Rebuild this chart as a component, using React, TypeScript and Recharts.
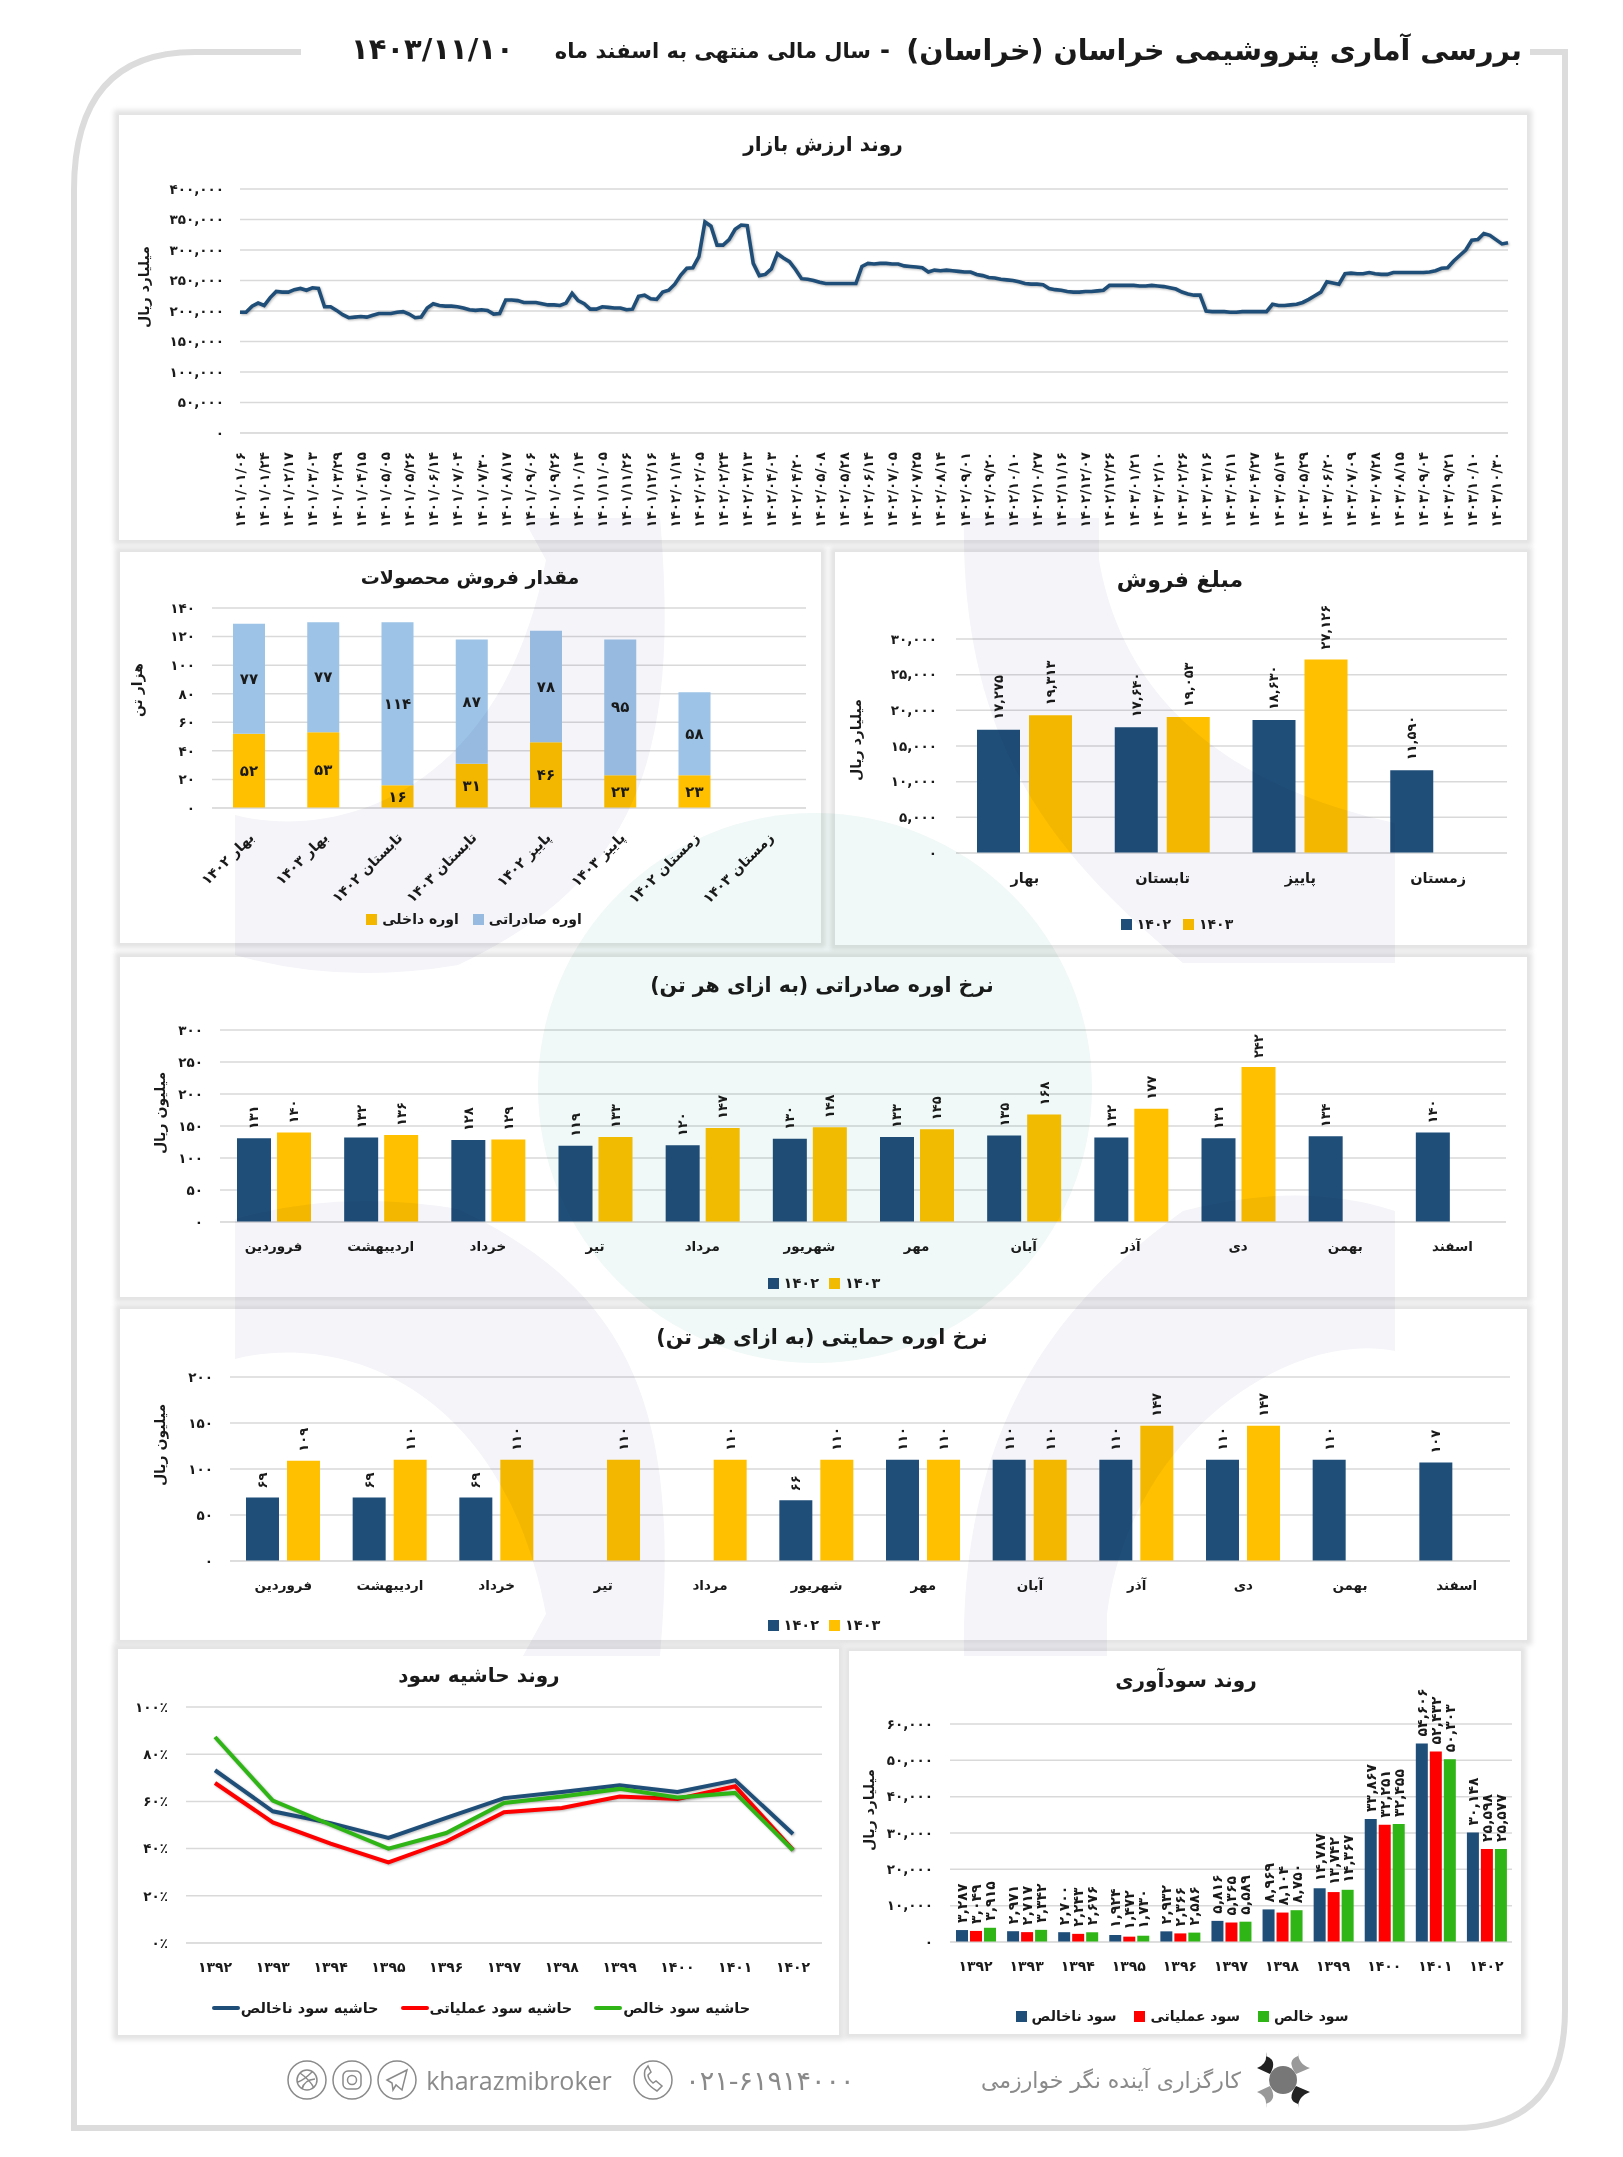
import React from 'react';
import { LineChart, Line, BarChart, Bar, XAxis, YAxis, CartesianGrid, Legend, LabelList } from 'recharts';

const FONT = '"DejaVu Sans", sans-serif';
const NAVY = '#1F4E79';
const GOLD = '#FFC000';
const SKY = '#9DC3E6';
const RED = '#FF0000';
const GREEN = '#2FB516';
const GRID = '#d9d9d9';
const TXT = '#1a1a1a';

const marketDates = [
  '۱۴۰۱/۰۱/۰۶','۱۴۰۱/۰۱/۲۴','۱۴۰۱/۰۲/۱۷','۱۴۰۱/۰۳/۰۳','۱۴۰۱/۰۳/۲۹','۱۴۰۱/۰۴/۱۵','۱۴۰۱/۰۵/۰۵','۱۴۰۱/۰۵/۲۶','۱۴۰۱/۰۶/۱۴','۱۴۰۱/۰۷/۰۴','۱۴۰۱/۰۷/۳۰','۱۴۰۱/۰۸/۱۷','۱۴۰۱/۰۹/۰۶','۱۴۰۱/۰۹/۲۶','۱۴۰۱/۱۰/۱۴','۱۴۰۱/۱۱/۰۵','۱۴۰۱/۱۱/۲۶','۱۴۰۱/۱۲/۱۶',
  '۱۴۰۲/۰۱/۱۴','۱۴۰۲/۰۲/۰۵','۱۴۰۲/۰۲/۲۴','۱۴۰۲/۰۳/۱۳','۱۴۰۲/۰۴/۰۳','۱۴۰۲/۰۴/۲۰','۱۴۰۲/۰۵/۰۸','۱۴۰۲/۰۵/۲۸','۱۴۰۲/۰۶/۱۴','۱۴۰۲/۰۷/۰۵','۱۴۰۲/۰۷/۲۵','۱۴۰۲/۰۸/۱۴','۱۴۰۲/۰۹/۰۱','۱۴۰۲/۰۹/۲۰','۱۴۰۲/۱۰/۱۰','۱۴۰۲/۱۰/۲۷','۱۴۰۲/۱۱/۱۶','۱۴۰۲/۱۲/۰۷',
  '۱۴۰۲/۱۲/۲۶','۱۴۰۳/۰۱/۲۱','۱۴۰۳/۰۲/۱۰','۱۴۰۳/۰۲/۲۶','۱۴۰۳/۰۳/۱۶','۱۴۰۳/۰۴/۱۱','۱۴۰۳/۰۴/۲۷','۱۴۰۳/۰۵/۱۴','۱۴۰۳/۰۵/۲۹','۱۴۰۳/۰۶/۲۰','۱۴۰۳/۰۷/۰۹','۱۴۰۳/۰۷/۲۸','۱۴۰۳/۰۸/۱۵','۱۴۰۳/۰۹/۰۴','۱۴۰۳/۰۹/۲۱','۱۴۰۳/۱۰/۱۰','۱۴۰۳/۱۰/۳۰',
];
const marketValues = [
  198000,198000,208000,213000,209000,222000,232000,231000,231000,235000,237000,234000,238000,237000,207000,207000,201000,194000,189000,190000,191000,190000,193000,196000,196000,196000,198000,199000,195000,189000,190000,205000,212000,209000,208000,208000,
  207000,205000,202000,201000,202000,201000,195000,196000,218000,218000,217000,214000,214000,214000,212000,210000,210000,209000,213000,229000,217000,212000,203000,203000,207000,206000,205000,205000,202000,203000,224000,226000,220000,219000,231000,234000,
  244000,259000,270000,271000,289000,346000,339000,308000,308000,317000,334000,341000,340000,278000,258000,260000,269000,294000,287000,281000,268000,253000,252000,250000,247000,245000,245000,245000,245000,245000,245000,273000,278000,277000,278000,278000,
  277000,277000,274000,273000,272000,271000,264000,267000,266000,267000,266000,265000,264000,264000,260000,258000,255000,254000,252000,251000,250000,248000,245000,244000,244000,243000,237000,235000,234000,232000,231000,231000,232000,232000,233000,234000,
  242000,242000,242000,242000,242000,241000,241000,242000,241000,240000,238000,236000,231000,228000,226000,226000,200000,199000,199000,199000,198000,198000,199000,199000,199000,199000,199000,211000,209000,209000,210000,211000,214000,219000,225000,231000,
  248000,246000,244000,261000,262000,261000,261000,263000,261000,260000,260000,263000,263000,263000,263000,263000,263000,264000,266000,270000,271000,282000,291000,300000,316000,317000,327000,324000,317000,310000,312000,
];
const marketTicks = [0,50000,100000,150000,200000,250000,300000,350000,400000];

const seasons = ['بهار','تابستان','پاییز','زمستان'];
const sales1402 = [17275,17640,18630,11590];
const sales1403 = [19313,19053,27126,null];
const salesTicks = [0,5000,10000,15000,20000,25000,30000];

const volumeCats = ['بهار ۱۴۰۲','بهار ۱۴۰۳','تابستان ۱۴۰۲','تابستان ۱۴۰۳','پاییز ۱۴۰۲','پاییز ۱۴۰۳','زمستان ۱۴۰۲','زمستان ۱۴۰۳'];
const volumeDomestic = [52,53,16,31,46,23,23,null];
const volumeExport = [77,77,114,87,78,95,58,null];
const volumeTicks = [0,20,40,60,80,100,120,140];

const months = ['فروردین','اردیبهشت','خرداد','تیر','مرداد','شهریور','مهر','آبان','آذر','دی','بهمن','اسفند'];
const exportRate1402 = [131,132,128,119,120,130,133,135,132,131,134,140];
const exportRate1403 = [140,136,129,133,147,148,145,168,177,242,null,null];
const exportRateTicks = [0,50,100,150,200,250,300];
const subsidyRate1402 = [69,69,69,null,null,66,110,110,110,110,110,107];
const subsidyRate1403 = [109,110,110,110,110,110,110,110,147,147,null,null];
const subsidyRateTicks = [0,50,100,150,200];

const years = ['۱۳۹۲','۱۳۹۳','۱۳۹۴','۱۳۹۵','۱۳۹۶','۱۳۹۷','۱۳۹۸','۱۳۹۹','۱۴۰۰','۱۴۰۱','۱۴۰۲'];
const grossMargin = [73.2,55.8,50.8,44.5,53,61.4,64,66.8,64,68.9,46.2];
const operatingMargin = [67.8,51.1,42.1,34.2,43,55.4,57.2,62.1,61,66.4,39.5];
const netMargin = [87.3,60.3,50.1,40,46.6,59.3,62.1,65.3,61.7,63.6,39.3];
const marginTicks = [0,20,40,60,80,100];

const grossProfit = [3287,2971,2700,1924,2932,5816,8969,14787,33867,54606,30148];
const operatingProfit = [3049,2717,2243,1472,2366,5365,8104,13742,32251,52432,25598];
const netProfit = [3915,3342,2676,1730,2586,5589,8750,14367,32455,50303,25577];
const profitTicks = [0,10000,20000,30000,40000,50000,60000];

const faDigits = '۰۱۲۳۴۵۶۷۸۹';
const fa = (n: any) => String(n).replace(/\d/g, (d) => faDigits[+d]);
const faNum = (n: any) => fa(Number(n).toLocaleString('en-US'));

const Panel = ({ x, y, r, b }: any) => (
  <div style={{ position: 'absolute', left: x, top: y, width: r - x, height: b - y, background: '#fff', boxShadow: '0 0 5px 5px #e3e3e3' }} />
);
const Text = ({ cx, cy, size, children, weight = 700, color = TXT, rot }: any) => (
  <div dir="rtl" style={{ position: 'absolute', left: cx - 300, top: cy - 20, width: 600, height: 40, lineHeight: '40px', textAlign: 'center', fontFamily: FONT, fontSize: size, fontWeight: weight, color, whiteSpace: 'nowrap', transform: rot ? `rotate(${rot}deg)` : undefined }}>{children}</div>
);

const rotatedLabel = (gap: number, size: number, fmt: (v: any) => string) => (p: any) => {
  const { x, y, width, value } = p;
  if (value == null) return null;
  const cx = x + width / 2;
  const yy = y - gap;
  return (
    <text x={cx} y={yy} transform={`rotate(-90 ${cx} ${yy})`} textAnchor="start" dominantBaseline="central" fontFamily={FONT} fontWeight={700} fontSize={size} fill={TXT}>{fmt(value)}</text>
  );
};
const centerLabel = (p: any) => {
  const { x, y, width, height, value } = p;
  if (value == null) return null;
  return <text x={x + width / 2} y={y + height / 2} textAnchor="middle" dominantBaseline="central" fontFamily={FONT} fontWeight={700} fontSize={15} fill={TXT}>{fa(value)}</text>;
};

const swatchLegend = (size: number, line: boolean, gap: number) => ({ payload }: any) => (
  <div style={{ display: 'flex', justifyContent: 'center', alignItems: 'center', gap, fontFamily: FONT, fontWeight: 700, fontSize: size, color: TXT, whiteSpace: 'nowrap' }}>
    {(payload || []).map((e: any) => (
      <span key={e.value} style={{ display: 'inline-flex', alignItems: 'center', gap: line ? 1 : 5 }}>
        <span style={{ display: 'inline-block', width: line ? 28 : 11, height: line ? 4 : 11, background: e.color, borderRadius: line ? 2 : 0 }} />
        <span dir="rtl">{e.value}</span>
      </span>
    ))}
  </div>
);

const axisTick = (size: number) => ({ fontFamily: FONT, fontSize: size, fontWeight: 700, fill: TXT });
const frame = (panel: any, plot: any, yW: number, xH: number) => ({
  width: panel.r - panel.x,
  height: panel.b - panel.y,
  margin: { top: plot.t - panel.y, right: panel.r - plot.r, bottom: panel.b - plot.b - xH, left: plot.l - panel.x - yW },
});
const gridEl = <CartesianGrid vertical={false} stroke={GRID} strokeWidth={1.5} />;

const dateTick = (p: any) => {
  const { x, y, payload } = p;
  const label = marketDates[payload.value / 4];
  const yy = y + 11;
  return <text x={x} y={yy} transform={`rotate(-90 ${x} ${yy})`} textAnchor="end" dominantBaseline="central" fontFamily={FONT} fontSize={13.5} fontWeight={700} fill={TXT}>{label}</text>;
};
const slantTick = (p: any) => {
  const { x, y, payload } = p;
  const yy = y + 19;
  const xx = x + 2;
  return <text x={xx} y={yy} transform={`rotate(-45 ${xx} ${yy})`} textAnchor="start" style={{ direction: 'rtl' }} dominantBaseline="central" fontFamily={FONT} fontSize={14} fontWeight={700} fill={TXT}>{payload.value}</text>;
};

function MarketChart() {
  const panel = { x: 119, y: 115, r: 1527, b: 540 };
  const plot = { l: 240, t: 189, r: 1508, b: 433 };
  const data = marketValues.map((v, i) => ({ i, v }));
  return (
    <div style={{ position: 'absolute', left: panel.x, top: panel.y }}>
      <LineChart data={data} {...frame(panel, plot, 60, 60)}>
        {gridEl}
        <XAxis dataKey="i" type="number" domain={[0, marketValues.length - 1]} ticks={marketDates.map((_, i) => i * 4)} interval={0} height={60} tickLine={false} stroke={GRID} tick={dateTick} />
        <YAxis width={60} domain={[0, 400000]} ticks={marketTicks} interval={0} axisLine={false} tickLine={false} tickSize={0} tickMargin={16} tickFormatter={faNum} tick={axisTick(13.5)} />
        <Line dataKey="v" name="ارزش بازار" stroke={NAVY} strokeWidth={3.6} dot={false} isAnimationActive={false} />
      </LineChart>
    </div>
  );
}

function SalesChart() {
  const panel = { x: 835, y: 552, r: 1527, b: 945 };
  const plot = { l: 956, t: 639, r: 1507, b: 853 };
  const data = seasons.map((s, i) => ({ s, a: sales1402[i], b: sales1403[i] }));
  return (
    <div style={{ position: 'absolute', left: panel.x, top: panel.y }}>
      <BarChart data={data} barSize={43} barGap={9} {...frame(panel, plot, 60, 40)}>
        {gridEl}
        <XAxis dataKey="s" interval={0} height={40} tickLine={false} stroke={GRID} tickMargin={14} tick={axisTick(14.5)} />
        <YAxis width={60} domain={[0, 30000]} ticks={salesTicks} interval={0} axisLine={false} tickLine={false} tickSize={0} tickMargin={19} tickFormatter={faNum} tick={axisTick(13.5)} />
        <Legend verticalAlign="middle" itemSorter={null} wrapperStyle={{ top: 364, left: 0, width: 684, margin: 0 }} content={swatchLegend(14, false, 12)} />
        <Bar dataKey="a" name="۱۴۰۲" fill={NAVY} isAnimationActive={false}><LabelList dataKey="a" content={rotatedLabel(10, 13, faNum)} /></Bar>
        <Bar dataKey="b" name="۱۴۰۳" fill={GOLD} isAnimationActive={false}><LabelList dataKey="b" content={rotatedLabel(10, 13, faNum)} /></Bar>
      </BarChart>
    </div>
  );
}

function VolumeChart() {
  const panel = { x: 120, y: 552, r: 821, b: 943 };
  const plot = { l: 212, t: 608, r: 806, b: 808 };
  const data = volumeCats.map((c, i) => ({ c, d: volumeDomestic[i], e: volumeExport[i] }));
  return (
    <div style={{ position: 'absolute', left: panel.x, top: panel.y }}>
      <BarChart data={data} barSize={32} {...frame(panel, plot, 60, 60)}>
        {gridEl}
        <XAxis dataKey="c" interval={0} height={60} tickLine={false} stroke={GRID} tick={slantTick} />
        <YAxis width={60} domain={[0, 140]} ticks={volumeTicks} interval={0} axisLine={false} tickLine={false} tickSize={0} tickMargin={17} tickFormatter={fa} tick={axisTick(13.5)} />
        <Legend verticalAlign="middle" itemSorter={null} wrapperStyle={{ top: 359, left: 0, width: 708, margin: 0 }} content={swatchLegend(14, false, 14)} />
        <Bar dataKey="d" name="اوره داخلی" stackId="s" fill={GOLD} isAnimationActive={false}><LabelList dataKey="d" content={centerLabel} /></Bar>
        <Bar dataKey="e" name="اوره صادراتی" stackId="s" fill={SKY} isAnimationActive={false}><LabelList dataKey="e" content={centerLabel} /></Bar>
      </BarChart>
    </div>
  );
}

function RateChart({ panel, plot, a, b, ticks, barSize, barGap, labelGap, legendTop }: any) {
  const data = months.map((m, i) => ({ m, a: a[i], b: b[i] }));
  return (
    <div style={{ position: 'absolute', left: panel.x, top: panel.y }}>
      <BarChart data={data} barSize={barSize} barGap={barGap} {...frame(panel, plot, 60, 40)}>
        {gridEl}
        <XAxis dataKey="m" interval={0} height={40} tickLine={false} stroke={GRID} tickMargin={13} tick={axisTick(13.5)} />
        <YAxis width={60} domain={[0, ticks[ticks.length - 1]]} ticks={ticks} interval={0} axisLine={false} tickLine={false} tickSize={0} tickMargin={17} tickFormatter={fa} tick={axisTick(13.5)} />
        <Legend verticalAlign="middle" itemSorter={null} wrapperStyle={{ top: legendTop, left: 0, width: 1408, margin: 0 }} content={swatchLegend(14.5, false, 10)} />
        <Bar dataKey="a" name="۱۴۰۲" fill={NAVY} isAnimationActive={false}><LabelList dataKey="a" content={rotatedLabel(labelGap, 13, fa)} /></Bar>
        <Bar dataKey="b" name="۱۴۰۳" fill={GOLD} isAnimationActive={false}><LabelList dataKey="b" content={rotatedLabel(labelGap, 13, fa)} /></Bar>
      </BarChart>
    </div>
  );
}

function MarginChart() {
  const panel = { x: 118, y: 1649, r: 839, b: 2035 };
  const plot = { l: 186, t: 1707, r: 822, b: 1943 };
  const data = years.map((y, i) => ({ y, g: grossMargin[i], o: operatingMargin[i], n: netMargin[i] }));
  return (
    <div style={{ position: 'absolute', left: panel.x, top: panel.y }}>
      <LineChart data={data} {...frame(panel, plot, 60, 40)}>
        {gridEl}
        <XAxis dataKey="y" interval={0} height={40} padding={{ left: 29, right: 29 }} tickLine={false} stroke={GRID} tickMargin={13} tick={axisTick(14)} />
        <YAxis width={60} domain={[0, 100]} ticks={marginTicks} interval={0} axisLine={false} tickLine={false} tickSize={0} tickMargin={18} tickFormatter={(v: any) => fa(v) + '٪'} tick={axisTick(13.5)} />
        <Legend verticalAlign="middle" itemSorter={null} wrapperStyle={{ top: 351, left: 0, width: 726, margin: 0 }} content={swatchLegend(14.5, true, 22)} />
        <Line dataKey="g" name="حاشیه سود ناخالص" stroke={NAVY} strokeWidth={4} dot={false} isAnimationActive={false} />
        <Line dataKey="o" name="حاشیه سود عملیاتی" stroke={RED} strokeWidth={4} dot={false} isAnimationActive={false} />
        <Line dataKey="n" name="حاشیه سود خالص" stroke={GREEN} strokeWidth={4} dot={false} isAnimationActive={false} />
      </LineChart>
    </div>
  );
}

function ProfitChart() {
  const panel = { x: 849, y: 1651, r: 1521, b: 2034 };
  const plot = { l: 950, t: 1724, r: 1512, b: 1942 };
  const data = years.map((y, i) => ({ y, g: grossProfit[i], o: operatingProfit[i], n: netProfit[i] }));
  const lab = rotatedLabel(7, 14, faNum);
  return (
    <div style={{ position: 'absolute', left: panel.x, top: panel.y }}>
      <BarChart data={data} barSize={12} barGap={2} {...frame(panel, plot, 60, 40)}>
        {gridEl}
        <XAxis dataKey="y" interval={0} height={40} tickLine={false} stroke={GRID} tickMargin={13} tick={axisTick(14)} />
        <YAxis width={60} domain={[0, 60000]} ticks={profitTicks} interval={0} axisLine={false} tickLine={false} tickSize={0} tickMargin={17} tickFormatter={faNum} tick={axisTick(13.5)} />
        <Legend verticalAlign="middle" itemSorter={null} wrapperStyle={{ top: 357, left: 0, width: 666, margin: 0 }} content={swatchLegend(14, false, 18)} />
        <Bar dataKey="g" name="سود ناخالص" fill={NAVY} isAnimationActive={false}><LabelList dataKey="g" content={lab} /></Bar>
        <Bar dataKey="o" name="سود عملیاتی" fill={RED} isAnimationActive={false}><LabelList dataKey="o" content={lab} /></Bar>
        <Bar dataKey="n" name="سود خالص" fill={GREEN} isAnimationActive={false}><LabelList dataKey="n" content={lab} /></Bar>
      </BarChart>
    </div>
  );
}

const Watermark = () => (
  <svg width={1623} height={2157} style={{ position: 'absolute', left: 0, top: 0, mixBlendMode: 'multiply', pointerEvents: 'none' }}>
    <ellipse cx={815} cy={1088} rx={277} ry={275} fill="#f0f9f7" />
    <path d="M523 518 L660 518 C680 750 640 880 458 965 Q340 985 235 955 L235 815 C330 840 500 800 546 560 Z" fill="#f4f4f9" />
    <path d="M523 1656 L660 1656 C680 1424 640 1294 458 1209 Q340 1189 235 1219 L235 1359 C330 1334 500 1374 546 1614 Z" fill="#f4f4f9" />
    <path d="M1099 518 L964 518 C960 750 1060 860 1183 963 L1395 963 L1395 823 C1290 800 1130 740 1099 560 Z" fill="#f4f4f9" />
    <path d="M1107 1656 L964 1656 C960 1424 1060 1300 1183 1211 Q1300 1180 1395 1211 L1395 1351 C1290 1330 1130 1434 1107 1614 Z" fill="#f4f4f9" />
  </svg>
);

const Outline = () => (
  <svg width={1623} height={2157} style={{ position: 'absolute', left: 0, top: 0 }}>
    <path d="M301 52 L195 52 Q74 52 74 190 L74 2128 L1455 2128 Q1565 2128 1565 2010 L1565 52 L1530 52" fill="none" stroke="#dcdcdc" strokeWidth={6} />
    <g fill="none" stroke="#8a8a8a" strokeWidth={1.5}>
      <circle cx={653} cy={2080} r={19} /><circle cx={397} cy={2080} r={19} /><circle cx={352} cy={2080} r={19} /><circle cx={307} cy={2080} r={19} />
      <path d="M645 2070 q-3 12 12 21 l5 -5 l-6 -5 l-3 2 q-5 -4 -5 -8 l3 -3 l-3 -6 Z" />
      <path d="M387 2080 l20 -10 l-5 20 l-6 -5 l-3 5 l-1 -7 Z" />
      <rect x={343} y={2071} width={18} height={18} rx={5} /><circle cx={352} cy={2080} r={4.5} />
      <circle cx={307} cy={2080} r={10} /><path d="M300 2073 q10 7 14 15 M312 2072 q-8 8 -14 10 M302 2089 q2 -9 13 -10" />
    </g>
    <circle cx={1283} cy={2080} r={14} fill="#777" />
    <path d="M1266 2052 L1266 2056 Q1278 2060 1270 2074 L1257 2068 Q1268 2064 1266 2052 Z" fill="#222" />
    <path d="M1298 2052 L1298 2056 Q1286 2060 1296 2074 L1310 2068 Q1298 2064 1298 2052 Z" fill="#999" />
    <path d="M1266 2108 L1266 2104 Q1278 2100 1270 2086 L1257 2092 Q1268 2096 1266 2108 Z" fill="#999" />
    <path d="M1298 2108 L1298 2104 Q1286 2100 1296 2086 L1310 2092 Q1298 2096 1298 2108 Z" fill="#222" />
  </svg>
);

export default function App() {
  return (
    <div style={{ position: 'absolute', left: 0, top: 0, width: 1623, height: 2157, background: '#fff', overflow: 'hidden' }}>
      <style>{`.recharts-line-curve{filter:drop-shadow(1px 1.5px 1px rgba(0,0,0,.28))}`}</style>
      <Outline />
      <Panel x={119} y={115} r={1527} b={540} />
      <Panel x={120} y={552} r={821} b={943} />
      <Panel x={835} y={552} r={1527} b={945} />
      <Panel x={120} y={957} r={1527} b={1297} />
      <Panel x={120} y={1309} r={1527} b={1640} />
      <Panel x={118} y={1649} r={839} b={2035} />
      <Panel x={849} y={1651} r={1521} b={2034} />

      <div dir="rtl" style={{ position: 'absolute', right: 1623 - 1522, top: 34, fontFamily: FONT, fontWeight: 700, fontSize: 28.5, color: TXT, whiteSpace: 'nowrap' }}>بررسی آماری پتروشیمی خراسان (خراسان)</div>
      <div style={{ position: 'absolute', left: 880, top: 36, fontFamily: FONT, fontWeight: 700, fontSize: 24, color: TXT }}>-</div>
      <div dir="rtl" style={{ position: 'absolute', right: 1623 - 871, top: 39, fontFamily: FONT, fontWeight: 700, fontSize: 21, color: TXT, whiteSpace: 'nowrap' }}>سال مالی منتهی به اسفند ماه</div>
      <div style={{ position: 'absolute', left: 351, top: 32, fontFamily: FONT, fontWeight: 700, fontSize: 29, color: TXT, whiteSpace: 'nowrap' }}>۱۴۰۳/۱۱/۱۰</div>

      <MarketChart />
      <VolumeChart />
      <SalesChart />
      <RateChart panel={{ x: 120, y: 957, r: 1527, b: 1297 }} plot={{ l: 220, t: 1030, r: 1506, b: 1222 }} a={exportRate1402} b={exportRate1403} ticks={exportRateTicks} barSize={34} barGap={6} labelGap={9} legendTop={318} />
      <RateChart panel={{ x: 120, y: 1309, r: 1527, b: 1640 }} plot={{ l: 230, t: 1377, r: 1510, b: 1561 }} a={subsidyRate1402} b={subsidyRate1403} ticks={subsidyRateTicks} barSize={33} barGap={8} labelGap={9} legendTop={308} />
      <MarginChart />
      <ProfitChart />

      <Text cx={823} cy={144} size={20}>روند ارزش بازار</Text>
      <Text cx={144} cy={287} size={14} rot={-90}>میلیارد ریال</Text>
      <Text cx={470} cy={577} size={19}>مقدار فروش محصولات</Text>
      <Text cx={137} cy={690} size={14} rot={-90}>هزار تن</Text>
      <Text cx={1180} cy={580} size={22}>مبلغ فروش</Text>
      <Text cx={856} cy={740} size={14} rot={-90}>میلیارد ریال</Text>
      <Text cx={822} cy={985} size={20.5}>نرخ اوره صادراتی (به ازای هر تن)</Text>
      <Text cx={160} cy={1113} size={14} rot={-90}>میلیون ریال</Text>
      <Text cx={822} cy={1337} size={20.5}>نرخ اوره حمایتی (به ازای هر تن)</Text>
      <Text cx={160} cy={1445} size={14} rot={-90}>میلیون ریال</Text>
      <Text cx={479} cy={1675} size={20}>روند حاشیه سود</Text>
      <Text cx={1186} cy={1680} size={20}>روند سودآوری</Text>
      <Text cx={869} cy={1810} size={14} rot={-90}>میلیارد ریال</Text>

      <Text cx={1111} cy={2081} size={22} weight={400} color="#8a8a8a">کارگزاری آینده نگر خوارزمی</Text>
      <Text cx={770} cy={2081} size={27} weight={400} color="#8a8a8a"><span dir="ltr">۰۲۱-۶۱۹۱۴۰۰۰</span></Text>
      <Text cx={519} cy={2080} size={25} weight={400} color="#8a8a8a"><span dir="ltr" style={{ fontFamily: '"Open Sans"' }}>kharazmibroker</span></Text>

      <Watermark />
    </div>
  );
}
